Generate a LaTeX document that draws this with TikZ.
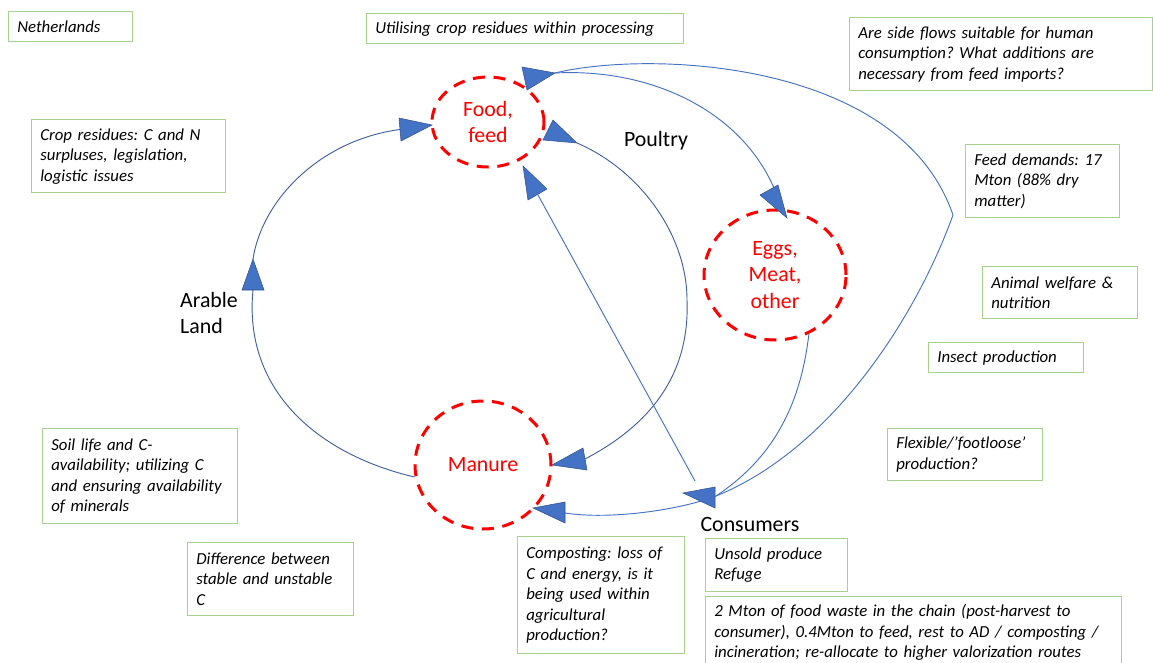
\documentclass[tikz,border=0pt]{standalone}
\usepackage{fontspec}
\usetikzlibrary{shapes.geometric}
\setmainfont{Carlito}
\frenchspacing
\definecolor{lineblue}{HTML}{4472C4}
\definecolor{linedark}{HTML}{41609F}
\definecolor{tridark}{HTML}{2F528F}
\definecolor{boxgreen}{HTML}{A9D18E}
\definecolor{dashred}{HTML}{FF0000}
\newcommand\boxfont{\fontsize{12.6}{15.4}\selectfont\itshape}
\newcommand\labfont{\fontsize{16.4}{20}\selectfont}
\begin{document}
\begin{tikzpicture}[x=0.75pt,y=-0.75pt,
  box/.style 2 args={draw=boxgreen, line width=1pt, anchor=north west,
    inner xsep=6.5pt, inner ysep=2pt, align=left, text width=#1,
    minimum height=#2, font=\boxfont},
  hub/.style={ellipse, draw=dashred, line width=2.25pt,
    dash pattern=on 9pt off 6.5pt, text=dashred, align=center,
    font=\labfont, inner sep=0pt},
  lab/.style={font=\labfont, align=left, inner sep=0pt},
  flow/.style={draw=lineblue, line width=0.7pt},
  flowdark/.style={draw=linedark, line width=0.7pt},
  tri/.style={fill=lineblue, draw=tridark, line width=0.4pt, line join=miter}]
\useasboundingbox (0,0) rectangle (1153,663);
\clip (0,0) rectangle (1153,663);

% hubs
\node[hub, minimum width=84pt, minimum height=67.5pt] (food) at (488,122) {Food,\\feed};
\node[hub, minimum width=106.5pt, minimum height=97.5pt] (eggs) at (775,275) {Eggs,\\Meat,\\other};
\node[hub, minimum width=102pt, minimum height=96pt] (manure) at (483,465) {Manure};

% plain labels
\node[lab] (poultry) at (656,141) {Poultry};
\node[lab] (arable) at (209,313) {Arable\\Land};
\node[lab] (consumers) at (750,524) {Consumers};

% boxes
\node[box={80pt}{22.5pt}] (neth) at (8,11) {Netherlands};
\node[box={132.5pt}{54.75pt}] (crop) at (31,119) {Crop residues: C and N\\surpluses, legislation,\\logistic issues};
\node[box={224.75pt}{22.5pt}] (util) at (366,13) {Utilising crop residues within processing};
\node[box={214.25pt}{54.75pt}] (side) at (849,17) {Are side flows suitable for human\\consumption? What additions are\\necessary from feed imports?};
\node[box={102.5pt}{54.75pt}] (feedd) at (965,144) {Feed demands: 17\\Mton (88\% dry\\matter)};
\node[box={103.25pt}{39pt}] (anim) at (982,266) {Animal welfare \&\\nutrition};
\node[box={103.25pt}{22.5pt}] (insect) at (928,342) {Insect production};
\node[box={103.25pt}{39pt}] (flex) at (887,428) {Flexible/’footloose’\\production?};
\node[box={133.25pt}{71.25pt}] (soil) at (42,428) {Soil life and C-\\availability; utilizing C\\and ensuring availability\\of minerals};
\node[box={111.5pt}{54.75pt}] (diff) at (187,542) {Difference between\\stable and unstable\\C};
\node[box={112.25pt}{87.75pt}] (comp) at (517,536) {Composting: loss of\\C and energy, is it\\being used within\\agricultural\\production?};
\node[box={93.5pt}{39.75pt}] (unsold) at (705,538) {Unsold produce\\Refuge};
\node[box={299pt}{54pt}] (mton) at (705,596) {2 Mton of food waste in the chain (post-harvest to\\consumer), 0.4Mton to feed, rest to AD / composting /\\incineration; re-allocate to higher valorization routes};

% connector end points
\coordinate (fT) at (555,73);
\coordinate (eT) at (774,188);
\coordinate (fR) at (577,143);
\coordinate (mR) at (585,459);
\coordinate (fB) at (538,195);
\coordinate (cS) at (695,481);
\coordinate (cA) at (716,496);
\coordinate (mB) at (565,513);
\coordinate (cusp) at (953,215);
\coordinate (lM1) at (253,290);
\coordinate (lM2) at (253,259);
\coordinate (fL) at (400,129.5);
\coordinate (rmax) at (687,300);

% connectors
\draw[flowdark] (manure.190) .. controls (320,455) and (243,392) .. (lM1);
\draw[flowdark] (lM2) .. controls (262,200) and (320,140) .. (fL);
\draw[flowdark] (fR) .. controls (640,170) and (687,235) .. (rmax) .. controls (690,375) and (650,425) .. (mR);
\draw[flow] (cS) -- (fB);
\draw[flow] (fT) .. controls (650,68) and (740,110) .. (eT);
\draw[flow] (fT) .. controls (650,50) and (900,60) .. (cusp);
\draw[flow] (cusp) .. controls (915,320) and (830,450) .. (cA) .. controls (680,510) and (610,520) .. (mB);
\draw[flow] (eggs.-60) .. controls (800,410) and (770,460) .. (cA);

% arrowheads
\filldraw[tri] (432,125) -- (399,118) -- (401,141) -- cycle;
\filldraw[tri] (253,259) -- (242,290) -- (264,290) -- cycle;
\filldraw[tri] (553,120) -- (543,140) -- (577,143) -- cycle;
\filldraw[tri] (523,166) -- (547,189) -- (528,200) -- cycle;
\filldraw[tri] (522,67) -- (527,90) -- (555,73) -- cycle;
\filldraw[tri] (760,195) -- (778,185) -- (787,218) -- cycle;
\filldraw[tri] (552,465) -- (583,448) -- (587,470) -- cycle;
\filldraw[tri] (683,493) -- (715,487) -- (715,508) -- cycle;
\filldraw[tri] (533,508) -- (565,502) -- (565,523) -- cycle;
\end{tikzpicture}
\end{document}
